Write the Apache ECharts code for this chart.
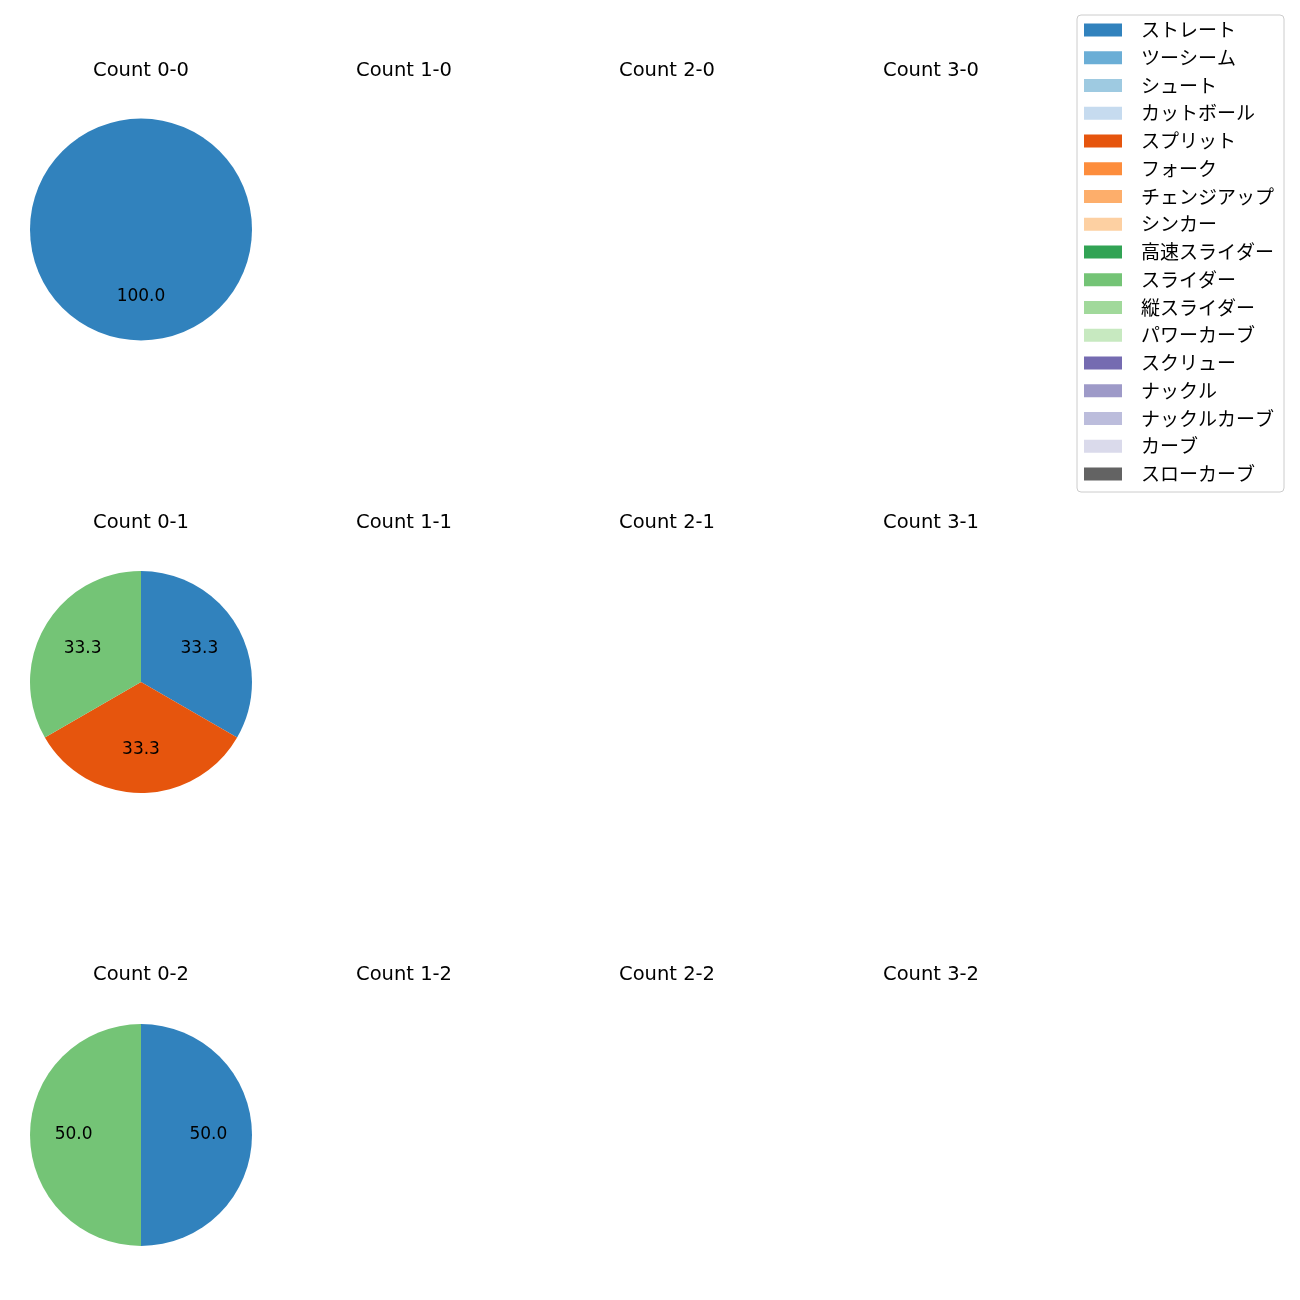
<!DOCTYPE html>
<html>
<head>
<meta charset="utf-8">
<script src="https://cdn.jsdelivr.net/npm/echarts@6/dist/echarts.min.js"></script>
<style>html,body{margin:0;padding:0;background:#fff}#c{width:1300px;height:1300px}</style>
</head>
<body>
<div id="c"></div>
<script>
const categories = ['ストレート','ツーシーム','シュート','カットボール','スプリット','フォーク','チェンジアップ','シンカー','高速スライダー','スライダー','縦スライダー','パワーカーブ','スクリュー','ナックル','ナックルカーブ','カーブ','スローカーブ'];
const colors = ['#3182bd','#6baed6','#9ecae1','#c6dbef','#e6550d','#fd8d3c','#fdae6b','#fdd0a2','#31a354','#74c476','#a1d99b','#c7e9c0','#756bb1','#9e9ac8','#bcbddc','#dadaeb','#636363'];
const titles = [
  ['Count 0-0','Count 1-0','Count 2-0','Count 3-0'],
  ['Count 0-1','Count 1-1','Count 2-1','Count 3-1'],
  ['Count 0-2','Count 1-2','Count 2-2','Count 3-2']
];
// counts per subplot, in category order (only the first column has pitches)
const count00 = [1,0,0,0,0,0,0,0,0,0,0,0,0,0,0,0,0];
const count01 = [1,0,0,0,1,0,0,0,0,1,0,0,0,0,0,0,0];
const count02 = [1,0,0,0,0,0,0,0,0,1,0,0,0,0,0,0,0];
const pieRows = [count00, count01, count02];

const colX = [141, 404, 667, 931];
const rowY = [229.5, 682, 1135];
const titleY = [69, 521, 973];
const R = 111;
const LATIN = '"DejaVu Sans", "Noto Sans CJK JP", sans-serif';
const CJK = '"Noto Sans CJK JP", "DejaVu Sans", sans-serif';

const chart = echarts.init(document.getElementById('c'), null, {renderer: 'canvas'});
const title = [];
const series = [];
for (let r = 0; r < 3; r++) {
  for (let c = 0; c < 4; c++) {
    title.push({
      text: titles[r][c], left: colX[c], top: titleY[r] - 9, textAlign: 'center', padding: 0,
      textStyle: {fontFamily: LATIN, fontSize: 19.5, fontWeight: 'normal', color: '#000', lineHeight: 22}
    });
  }
  const vals = pieRows[r];
  series.push({
    type: 'pie', center: [colX[0], rowY[r]], radius: [0, R], startAngle: 90, clockwise: true,
    data: categories.map((n, i) => ({name: n, value: vals[i], itemStyle: {color: colors[i]}})),
    label: {show: false}, labelLine: {show: false}, silent: true, animation: false,
    itemStyle: {borderWidth: 0}, stillShowZeroSum: false
  });
  series.push({
    type: 'pie', center: [colX[0], rowY[r]], radius: [0.16 * R, R], startAngle: 90, clockwise: true,
    data: categories.map((n, i) => ({name: n, value: vals[i]})),
    itemStyle: {color: 'rgba(0,0,0,0)', borderWidth: 0}, silent: true, animation: false,
    labelLine: {show: false}, stillShowZeroSum: false,
    label: {show: true, position: 'inside', fontFamily: LATIN, fontSize: 17, color: '#000',
      formatter: p => p.value > 0 ? p.percent.toFixed(1) : ''}
  });
}

chart.setOption({
  animation: false,
  color: colors,
  title: title,
  legend: {
    data: categories, orient: 'vertical', left: 1077, top: 15,
    itemWidth: 38, itemHeight: 13, itemGap: 7.75,
    padding: [5, 10, 8, 7],
    borderColor: '#cccccc', borderWidth: 1, borderRadius: 4,
    icon: 'rect',
    selectedMode: false,
    textStyle: {fontFamily: CJK, fontSize: 19, lineHeight: 20, color: '#000', padding: [0, 0, 0, 14]}
  },
  series: series
});
</script>
</body>
</html>
